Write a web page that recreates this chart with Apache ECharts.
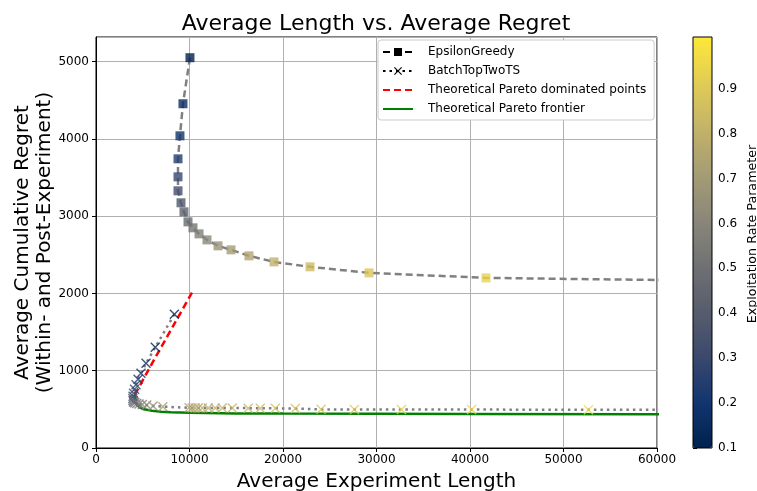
<!DOCTYPE html>
<html><head><meta charset="utf-8">
<script src="https://cdn.jsdelivr.net/npm/echarts@6/dist/echarts.min.js"></script>
<style>html,body{margin:0;padding:0;background:#fff}#c{width:757px;height:491px}</style>
</head><body><div id="c"></div>
<script>
// ---- data ----
const epsX = [10050, 9300, 8980, 8770, 8770, 8770, 9090, 9410, 9840, 10370, 11020, 11870, 13050, 14440, 16360, 19040, 22890, 29200, 41710, 90000];
const epsY = [5052, 4456, 4041, 3743, 3510, 3329, 3174, 3057, 2927, 2850, 2772, 2694, 2617, 2565, 2487, 2409, 2345, 2267, 2202, 2130];
const epsRate = [0.10, 0.15, 0.19, 0.24, 0.29, 0.33, 0.38, 0.43, 0.47, 0.52, 0.57, 0.61, 0.66, 0.71, 0.75, 0.80, 0.85, 0.89, 0.94, 0.99];

const ttX = [8380, 6340, 5350, 4810, 4500, 4280, 4120, 4020, 3960, 3940, 3960, 4020, 4150, 4350, 4600, 4950, 5430, 6100, 7150, 9960, 10280, 10600, 10930, 11360, 12000, 12750, 13500, 14570, 16280, 17570, 19180, 21320, 24070, 27640, 32670, 40170, 52670, 75000];
const ttY = [1731, 1304, 1097, 967, 890, 820, 760, 710, 670, 640, 615, 595, 585, 575, 568, 562, 555, 545, 535, 520, 519, 519, 519, 518, 518, 518, 517, 517, 516, 515, 514, 510, 500, 499, 498, 497, 496, 495];
const ttRate = [0.10, 0.13, 0.16, 0.19, 0.22, 0.25, 0.28, 0.31, 0.34, 0.37, 0.40, 0.43, 0.46, 0.50, 0.54, 0.58, 0.62, 0.66, 0.70, 0.74, 0.75, 0.76, 0.77, 0.78, 0.79, 0.80, 0.81, 0.82, 0.83, 0.84, 0.86, 0.87, 0.89, 0.91, 0.93, 0.95, 0.97, 0.99];

const domX = [4150, 6200, 8300, 10350];
const domY = [690, 1140, 1590, 2030];

const frontX = [4150, 4200, 4350, 4600, 5000, 6000, 7000, 8000, 10000, 15000, 20000, 30000, 40000, 60000, 80000];
const frontY = [690, 620, 570, 530, 505, 482, 470, 463, 455, 448, 445, 442, 440, 438, 437];

const xTicks = [0, 10000, 20000, 30000, 40000, 50000, 60000];
const yTicks = [0, 1000, 2000, 3000, 4000, 5000];
const cbTicks = [0.1, 0.2, 0.3, 0.4, 0.5, 0.6, 0.7, 0.8, 0.9];

const cividis = ['#00224e', '#123570', '#3b496c', '#575d6d', '#707173', '#8a8779', '#a59c74', '#c3b369', '#e1cc55', '#fee838'];

const zip = (xs, ys, cs) => xs.map((x, i) => cs ? [x, ys[i], cs[i]] : [x, ys[i]]);
const F = 'DejaVu Sans';
const xMark = 'path://M1,0L5,4L9,0L10,1L6,5L10,9L9,10L5,6L1,10L0,9L4,5L0,1Z';
const CB_MAX = 1.015;

const chart = echarts.init(document.getElementById('c'), null, {renderer: 'canvas'});
chart.setOption({
  animation: false,
  backgroundColor: '#fff',
  textStyle: {fontFamily: F},
  title: {text: 'Average Length vs. Average Regret', left: 371, textAlign: 'center', top: 8,
    textStyle: {fontFamily: F, fontSize: 22, fontWeight: 'normal', color: '#000'}},
  grid: [
    {left: 96, right: 100, top: 37, bottom: 43, show: true, borderColor: '#000', borderWidth: 1,
     backgroundColor: 'transparent', outerBoundsMode: 'none', containLabel: false},
    {left: 693, width: 19, top: 37, height: 411, show: true, borderColor: '#000', borderWidth: 1, z: 10,
     outerBoundsMode: 'none', containLabel: false}
  ],
  xAxis: [
    {type: 'value', gridIndex: 0, min: xTicks[0], max: xTicks[xTicks.length - 1], interval: 10000,
     name: 'Average Experiment Length', nameLocation: 'middle', nameGap: 24, nameMoveOverlap: false,
     nameTextStyle: {fontFamily: F, fontSize: 20, color: '#000'},
     axisLine: {show: true, lineStyle: {color: '#000'}},
     axisTick: {show: true, length: 4, lineStyle: {color: '#000'}},
     axisLabel: {fontFamily: F, fontSize: 12, color: '#000', margin: 6, formatter: v => String(v)},
     splitLine: {show: true, lineStyle: {color: '#b0b0b0', width: 1}}},
    {type: 'value', gridIndex: 1, min: 0, max: 1, show: false}
  ],
  yAxis: [
    {type: 'value', gridIndex: 0, min: 0, max: 5320, interval: 1000,
     name: 'Average Cumulative Regret\n(Within- and Post-Experiment)', nameLocation: 'middle', nameGap: 40,
     nameMoveOverlap: false,
     nameTextStyle: {fontFamily: F, fontSize: 20, color: '#000', lineHeight: 22},
     axisLine: {show: true, lineStyle: {color: '#000'}},
     axisTick: {show: true, length: 4, lineStyle: {color: '#000'}},
     axisLabel: {fontFamily: F, fontSize: 12, color: '#000', margin: 7, showMaxLabel: false,
       formatter: v => yTicks.includes(v) ? String(v) : ''},
     splitLine: {show: true, lineStyle: {color: '#b0b0b0', width: 1}}},
    {type: 'value', gridIndex: 1, min: 0.1, max: CB_MAX, interval: 0.1, position: 'right',
     name: 'Exploitation Rate Parameter', nameLocation: 'middle', nameGap: 34, nameRotate: 90,
     nameTextStyle: {fontFamily: F, fontSize: 12.7, color: '#000', padding: [0, 0, 0, 17]},
     axisLine: {show: false},
     axisTick: {show: true, length: 4, lineStyle: {color: '#000'}},
     axisLabel: {fontFamily: F, fontSize: 12, color: '#000', margin: 6, showMaxLabel: false,
       formatter: v => { const r = Math.round(v * 10) / 10; return cbTicks.includes(r) ? r.toFixed(1) : ''; }},
     splitLine: {show: false}}
  ],
  visualMap: {
    type: 'continuous', min: 0.1, max: CB_MAX, dimension: 2, seriesIndex: [4, 5],
    inRange: {color: cividis}, calculable: false, hoverLink: false,
    left: 693, top: 37, itemWidth: 19, itemHeight: 411, padding: 0, text: null, showLabel: false
  },
  legend: {
    orient: 'vertical', left: 378, top: 40, itemGap: 7, itemWidth: 30, itemHeight: 10,
    padding: [6, 8, 5, 4], borderColor: '#cccccc', borderWidth: 1, borderRadius: 3, backgroundColor: '#fff',
    textStyle: {fontFamily: F, fontSize: 12, color: '#000', padding: [0, 0, 0, 10]},
    data: [
      {name: 'EpsilonGreedy', itemStyle: {color: '#000'}, lineStyle: {color: '#000'}},
      {name: 'BatchTopTwoTS', itemStyle: {color: '#000'}, lineStyle: {color: '#000'}},
      {name: 'Theoretical Pareto dominated points', itemStyle: {opacity: 0}},
      {name: 'Theoretical Pareto frontier', itemStyle: {opacity: 0}}
    ]
  },
  series: [
    {name: 'Theoretical Pareto frontier', type: 'line', data: zip(frontX, frontY), smooth: false,
     symbol: 'none', lineStyle: {color: '#008000', width: 2.5}, itemStyle: {color: '#008000'}, z: 2},
    {name: 'Theoretical Pareto dominated points', type: 'line', data: zip(domX, domY),
     symbol: 'none', lineStyle: {color: '#ff0000', width: 2.5, type: [7, 4]}, itemStyle: {color: '#ff0000'}, z: 3},
    {name: 'EpsilonGreedy', type: 'line', data: zip(epsX, epsY), symbol: 'rect', symbolSize: 9, showSymbol: false,
     lineStyle: {color: '#808080', width: 2.5, type: [7, 4]}, itemStyle: {color: '#808080'}, z: 3},
    {name: 'BatchTopTwoTS', type: 'line', data: zip(ttX, ttY), symbol: xMark, symbolSize: 9, showSymbol: false,
     lineStyle: {color: '#808080', width: 2.5, type: [2.5, 4]}, itemStyle: {color: '#808080'}, z: 3},
    {name: 'eg_pts', type: 'scatter', data: zip(epsX, epsY, epsRate), symbol: 'rect', symbolSize: 9, z: 5},
    {name: 'tt_pts', type: 'scatter', data: zip(ttX, ttY, ttRate), symbol: xMark, symbolSize: 10, z: 5}
  ]
});
</script></body></html>
